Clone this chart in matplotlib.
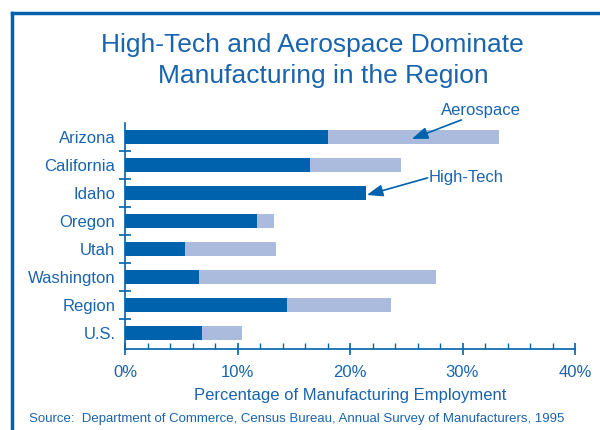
import matplotlib.pyplot as plt
from matplotlib.lines import Line2D

plt.rcParams['font.family'] = ['Liberation Sans', 'DejaVu Sans']

# data (% of manufacturing employment)
states = ['Arizona', 'California', 'Idaho', 'Oregon', 'Utah', 'Washington', 'Region', 'U.S.']
high_tech = [18.0, 16.4, 21.4, 11.7, 5.3, 6.6, 14.4, 6.8]
aerospace = [15.2, 8.1, 0.0, 1.5, 8.1, 21.0, 9.2, 3.6]
x_ticks = [0, 10, 20, 30, 40]
x_labels = ['0%', '10%', '20%', '30%', '40%']

blue = '#0062AC'
light = '#AABBDD'
txt = '#1A64AE'

fig = plt.figure(figsize=(6, 4.3), dpi=100)
ax = fig.add_axes([125 / 600, 1 - 349 / 430, 450 / 600, 226 / 430])

y = list(range(len(states)))
ax.barh(y, high_tech, height=0.47, color=blue, zorder=2)
ax.barh(y, aerospace, left=high_tech, height=0.47, color=light, zorder=2)

ax.set_xlim(0, 40)
ax.set_ylim(7.57, -0.5)

for s in ['top', 'right']:
    ax.spines[s].set_visible(False)
for s in ['left', 'bottom']:
    ax.spines[s].set_color(blue)
    ax.spines[s].set_linewidth(1.2)

ax.set_xticks(x_ticks)
ax.set_xticklabels(x_labels)
ax.set_xticks(range(0, 41, 2), minor=True)
ax.tick_params(axis='x', which='major', direction='inout', length=8, width=1.2,
               color=blue, labelcolor=txt, labelsize=12, pad=7.5)
ax.tick_params(axis='x', which='minor', direction='in', length=4, width=1, color=blue)

ax.set_yticks(y)
ax.set_yticklabels(states)
ax.tick_params(axis='y', which='major', length=0, labelcolor=txt, labelsize=12, pad=7)
ax.set_yticks([i + 0.5 for i in range(len(states) - 1)], minor=True)
ax.tick_params(axis='y', which='minor', direction='inout', length=8, width=1.2, color=blue)

ax.set_xlabel('Percentage of Manufacturing Employment', color=txt, fontsize=12, labelpad=6)

arrow = dict(arrowstyle='-|>,head_length=0.8,head_width=0.3', color=blue, lw=1.2,
             shrinkA=0, shrinkB=0, mutation_scale=12)
ax.text(28.1, -0.95, 'Aerospace', color=txt, fontsize=12, ha='left', va='center')
ax.annotate('', xy=(25.5, 0.07), xytext=(29.9, -0.61), arrowprops=arrow,
            annotation_clip=False)
ax.text(27.0, 1.43, 'High-Tech', color=txt, fontsize=12, ha='left', va='center')
ax.annotate('', xy=(21.5, 2.07), xytext=(26.9, 1.46), arrowprops=arrow,
            annotation_clip=False)

fig.text(312 / 600, 1 - 51.7 / 430, 'High-Tech and Aerospace Dominate', ha='center',
         va='baseline', color=txt, fontsize=19)
fig.text(323 / 600, 1 - 83.3 / 430, 'Manufacturing in the Region', ha='center',
         va='baseline', color=txt, fontsize=19)
fig.text(29 / 600, 1 - 419 / 430,
         'Source:  Department of Commerce, Census Bureau, Annual Survey of Manufacturers, 1995',
         ha='left', va='center', color=txt, fontsize=9.5)

# frame lines at top and left
fig.add_artist(Line2D([12 / 600, 1.0], [1 - 13 / 430] * 2, color=blue, lw=2.5))
fig.add_artist(Line2D([12 / 600] * 2, [0.0, 1 - 13 / 430], color=blue, lw=2.5))

fig.savefig('out.png', dpi=100)
